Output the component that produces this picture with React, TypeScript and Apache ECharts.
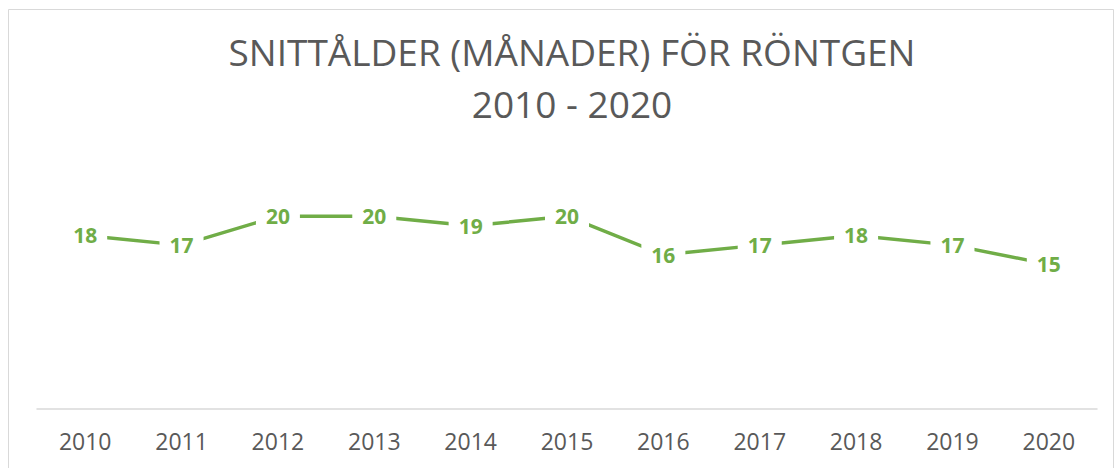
import React, { useEffect, useRef } from "react";
import * as echarts from "echarts";

const titleLines = ["SNITTÅLDER (MÅNADER) FÖR RÖNTGEN", "2010 - 2020"];
const years = ["2010", "2011", "2012", "2013", "2014", "2015", "2016", "2017", "2018", "2019", "2020"];
const ageMonths = [18, 17, 20, 20, 19, 20, 16, 17, 18, 17, 15];

const GREEN = "#70AD47";
const GRAY = "#595959";

export default function App() {
  const ref = useRef<HTMLDivElement>(null);
  useEffect(() => {
    const chart = echarts.init(ref.current!, undefined, { renderer: "svg" });
    chart.setOption({
      animation: false,
      backgroundColor: "#ffffff",
      title: {
        text: titleLines.join("\n"),
        left: 567,
        textAlign: "center",
        top: 20,
        textStyle: {
          fontFamily: "Open Sans",
          fontSize: 37,
          fontWeight: 400,
          color: GRAY,
          lineHeight: 52,
        },
      },
      graphic: [
        {
          type: "rect",
          shape: { x: 8.5, y: 9.5, width: 1105, height: 470 },
          style: { fill: "none", stroke: "#d9d9d9", lineWidth: 1 },
          silent: true,
        },
      ],
      grid: { left: 37, right: 18, top: 168, bottom: 59 },
      xAxis: {
        type: "category",
        data: years,
        boundaryGap: true,
        axisLine: { lineStyle: { color: "#d9d9d9", width: 1.5 } },
        axisTick: { show: false },
        axisLabel: {
          color: GRAY,
          fontFamily: "Open Sans",
          fontSize: 23,
          margin: 20,
        },
      },
      yAxis: {
        type: "value",
        min: 0,
        max: 25,
        show: false,
        splitLine: { show: false },
      },
      series: [
        {
          type: "line",
          data: ageMonths,
          symbol: "circle",
          symbolSize: 1,
          itemStyle: { color: GREEN },
          lineStyle: { color: GREEN, width: 3.5 },
          label: {
            show: true,
            position: "inside",
            color: GREEN,
            fontFamily: "Open Sans",
            fontWeight: "bold",
            fontSize: 21,
            backgroundColor: "#ffffff",
            padding: [4, 10],
          },
        },
      ],
    });
    return () => chart.dispose();
  }, []);
  return (
    <div
      ref={ref}
      style={{ position: "fixed", left: 0, top: 0, width: 1115, height: 468 }}
    />
  );
}
